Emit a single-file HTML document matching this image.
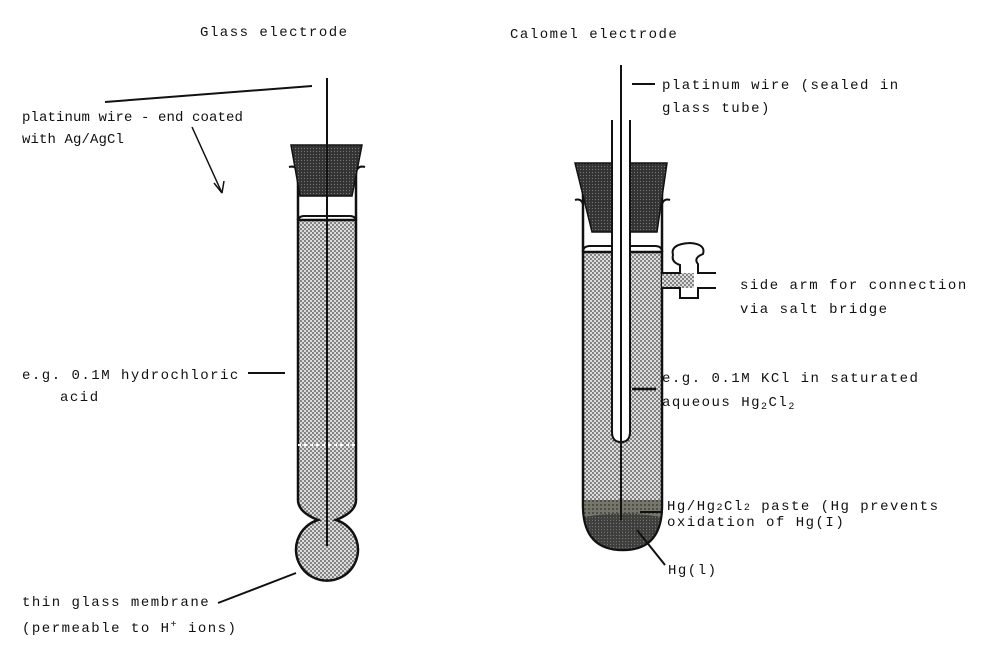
<!DOCTYPE html>
<html><head><style>body{margin:0;background:#fff}svg{display:block}text{font-family:"Liberation Mono",monospace;font-size:14px;fill:#111;letter-spacing:1.5px}</style></head><body>
<svg width="984" height="655" viewBox="0 0 984 655">
<defs>
<pattern id="d" width="4" height="4" patternUnits="userSpaceOnUse"><rect width="4" height="4" fill="#dcdcdc"/><circle cx="1" cy="1" r="0.9" fill="#444"/><circle cx="3" cy="3" r="0.9" fill="#444"/></pattern>
<pattern id="s" width="3" height="3" patternUnits="userSpaceOnUse"><rect width="3" height="3" fill="#333"/><circle cx="1.5" cy="1.5" r=".6" fill="#777"/></pattern>
<pattern id="p" width="4" height="4" patternUnits="userSpaceOnUse"><rect width="4" height="4" fill="#76766a"/><circle cx="1" cy="1" r="0.9" fill="#333"/></pattern>
</defs>
<text x="200" y="36">Glass electrode</text>
<text x="510" y="38">Calomel electrode</text>
<!-- glass electrode -->
<path d="M298 220 L298 500 Q298 512 318 520 A31 31 0 1 0 336 520 Q356 512 356 500 L356 220 Z" fill="url(#d)" stroke="#111" stroke-width="2.5"/>
<path d="M298 170 L298 220 M356 170 L356 220" stroke="#111" stroke-width="2.5"/>
<path d="M298 222 Q298 216 304 216 L350 216 Q356 216 356 222" fill="none" stroke="#111" stroke-width="2"/>
<path d="M289 167 Q296 165 298 172 M365 167 Q358 165 356 172" fill="none" stroke="#111" stroke-width="2"/>
<path d="M291 145 L362 145 L352 196 L300 196 Z" fill="url(#s)" stroke="#111" stroke-width="1.5"/>
<line x1="298" y1="445" x2="356" y2="445" stroke="#fff" stroke-width="2" stroke-dasharray="3 3"/>
<line x1="327" y1="78" x2="327" y2="546" stroke="#111" stroke-width="2"/>
<!-- calomel -->
<path d="M583 252 L583 505 Q583 550 623 550 Q662 550 662 505 L662 252 Z" fill="url(#d)" stroke="#111" stroke-width="2.5"/>
<path d="M584 500 L661 500 L661 505 Q661 549 623 549 Q584 549 584 505 Z" fill="url(#p)"/>
<path d="M584 517 Q623 510 661 517 L661 505 Q661 549 623 549 Q584 549 584 505 Z" fill="url(#s)" opacity=".8"/>
<path d="M583 185 L583 252 M662 185 L662 252" stroke="#111" stroke-width="2.5"/>
<path d="M583 252 Q583 246 590 246 L655 246 Q662 246 662 252" fill="none" stroke="#111" stroke-width="2"/>
<path d="M575 200 Q581 198 583 204 M670 200 Q664 198 662 204" fill="none" stroke="#111" stroke-width="2"/>
<path d="M575 163 L667 163 L657 232 L592 232 Z" fill="url(#s)" stroke="#111" stroke-width="1.5"/>
<path d="M612 120 L612 432 Q612 442 621 442 Q630 442 630 432 L630 120" fill="#fff" stroke="#111" stroke-width="2"/>
<line x1="621" y1="65" x2="621" y2="520" stroke="#111" stroke-width="2"/>
<rect x="662" y="273" width="32" height="15" fill="url(#d)"/>
<path d="M662 273 L680 273 L680 265 Q671 262 673 255 Q670 244 690 243 Q706 244 703 254 Q693 258 698 264 L698 273 L716 273 M662 288 L680 288 L680 298 L698 298 L698 288 L716 288" fill="none" stroke="#111" stroke-width="2"/>
<!-- leaders -->
<line x1="105" y1="102" x2="312" y2="86" stroke="#111" stroke-width="2"/>
<line x1="192" y1="127" x2="222" y2="193" stroke="#111" stroke-width="1.5"/>
<path d="M222 193 L214 183 M222 193 L224 181" stroke="#111" stroke-width="1.5"/>
<line x1="248" y1="373" x2="285" y2="373" stroke="#111" stroke-width="2"/>
<line x1="218" y1="603" x2="296" y2="573" stroke="#111" stroke-width="2"/>
<line x1="632" y1="84" x2="655" y2="84" stroke="#111" stroke-width="2"/>
<line x1="632" y1="389" x2="656" y2="389" stroke="#111" stroke-width="2.5"/>
<line x1="640" y1="512" x2="663" y2="512" stroke="#111" stroke-width="2"/>
<line x1="637" y1="530" x2="665" y2="565" stroke="#111" stroke-width="2"/>
<!-- labels -->
<text x="22" y="121" style="letter-spacing:0.1px">platinum wire - end coated</text>
<text x="22" y="143" style="letter-spacing:0.1px">with Ag/AgCl</text>
<text x="22" y="379">e.g. 0.1M hydrochloric</text>
<text x="60" y="401">acid</text>
<text x="22" y="606">thin glass membrane</text>
<text x="22" y="632">(permeable to H<tspan font-size="10" dy="-5">+</tspan><tspan dy="5"> ions)</tspan></text>
<text x="662" y="89">platinum wire (sealed in</text>
<text x="662" y="112">glass tube)</text>
<text x="740" y="289">side arm for connection</text>
<text x="740" y="313">via salt bridge</text>
<text x="662" y="382">e.g. 0.1M KCl in saturated</text>
<text x="662" y="406">aqueous Hg<tspan font-size="10" dy="3">2</tspan><tspan dy="-3">Cl</tspan><tspan font-size="10" dy="3">2</tspan></text>
<text x="667" y="510">Hg/Hg<tspan font-size="10">2</tspan>Cl<tspan font-size="10">2</tspan> paste (Hg prevents</text>
<text x="667" y="526">oxidation of Hg(I)</text>
<text x="668" y="574">Hg(l)</text>
</svg>
</body></html>
